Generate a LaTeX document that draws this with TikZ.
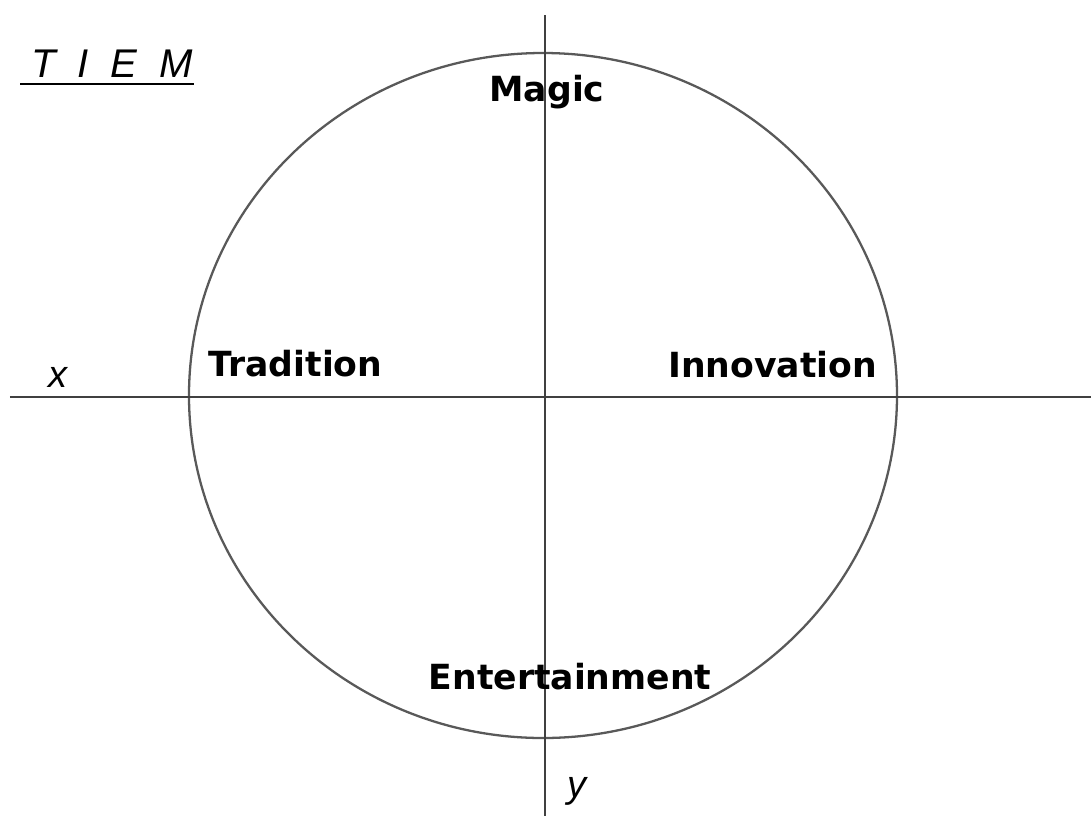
\documentclass[tikz,border=0pt]{standalone}
\usepackage{fontspec}
\usepackage{tikz}
\newfontfamily\quadfont{DejaVu Sans}
\newfontfamily\axfont{Liberation Sans}

\begin{document}
\begin{tikzpicture}[every node/.style={inner sep=0pt},
    quad/.style={anchor=base, font=\quadfont\bfseries\fontsize{9.85}{11}\selectfont},
    axlab/.style={anchor=base, font=\axfont\itshape\fontsize{10.8}{12}\selectfont},
    axline/.style={draw=black!75, line width=0.65pt}]
                \useasboundingbox (-5.45,-4.19) rectangle (5.46,3.97);

                % the circle
                \draw[axline, draw=black!65] (-0.02,0.015) ellipse (3.54 and 3.425);

                % axes
                \coordinate (xl) at (-5.35,0);
                \coordinate (xr) at (5.46,0);
                \coordinate (yt) at (0,3.82);
                \coordinate (yb) at (0,-4.19);
                \draw[axline] (xl) -- (xr);
                \draw[axline] (yt) -- (yb);

                \node[axlab] (x) at (-4.87,0.10) {x};
                \node[axlab] (y) at (0.32,-4.0) {y};

                % the four poles
                \node[quad] (magic) at (0.02,2.96) {Magic};
                \node[quad] (trad) at (-2.495,0.21) {Tradition};
                \node[quad] (innov) at (2.275,0.20) {Innovation};
                \node[quad] (ent) at (0.25,-2.92) {Entertainment};

                % title
                \node[anchor=base, font=\axfont\itshape\fontsize{11.4}{13}\selectfont] (tiem) at (-4.33,3.2)
                    {T\hspace{0.22cm}I\hspace{0.22cm}E\hspace{0.22cm}M};
                \draw[black, line width=0.6pt] ([xshift=-0.1cm,yshift=-0.07cm]tiem.base west) -- ([yshift=-0.07cm]tiem.base east);
            \end{tikzpicture}
\end{document}
